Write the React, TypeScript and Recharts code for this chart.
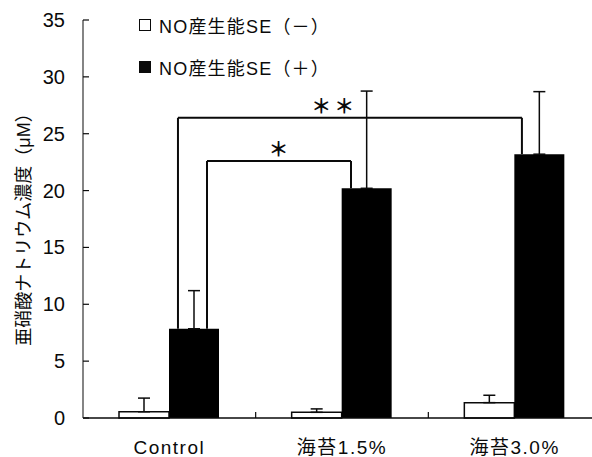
import React from "react";
import {
  BarChart,
  Bar,
  XAxis,
  YAxis,
  ErrorBar,
  Legend,
  ReferenceLine,
  ReferenceDot,
} from "recharts";

const categories = ["Control", "海苔1.5%", "海苔3.0%"];
const minusValues = [0.55, 0.5, 1.35];
const minusErrors = [1.2, 0.3, 0.65];
const plusValues = [7.85, 20.2, 23.2];
const plusErrors = [3.35, 8.55, 5.5];
const yTicks = [0, 5, 10, 15, 20, 25, 30, 35];
const seriesKeys = ["minus", "plus"];
const seriesNames = ["NO産生能SE（－）", "NO産生能SE（＋）"];
const yTitle = "亜硝酸ナトリウム濃度（μM）";

// brackets: x in category units (0..3 across the plot), level in µM
const brackets = [
  { from: 0, to: 1, x1: 0.718, x2: 1.552, level: 22.6 },
  { from: 0, to: 2, x1: 0.55, x2: 2.542, level: 26.4 },
];
const stars = [
  { x: 1.141, y: 23.7, text: "＊" },
  { x: 1.455, y: 27.5, text: "＊＊" },
];

const FONT = "'Liberation Sans', Arial, 'Noto Sans CJK JP', sans-serif";
const INK = "#0a0a0a";
const CHART_W = 601;
const CHART_H = 457;
const Y_AXIS_W = 83;
const BAND = (CHART_W - Y_AXIS_W) / categories.length;

const rows = categories.map((name, i) => ({
  name,
  pos: i + 0.5,
  minus: minusValues[i],
  minusErr: [0, minusErrors[i]],
  plus: plusValues[i],
  plusErr: [0, plusErrors[i]],
}));

const CategoryTick = (props: any) => {
  const { x, y, payload, index } = props;
  return (
    <g>
      <text
        x={x}
        y={y + 29}
        textAnchor="middle"
        dominantBaseline="central"
        fontSize={19}
        letterSpacing={1.5}
        fontFamily={FONT}
        fill={INK}
      >
        {payload.value}
      </text>
      {index < categories.length - 1 && (
        <line x1={x + BAND / 2} x2={x + BAND / 2} y1={y} y2={y - 6} stroke={INK} strokeWidth={1.2} />
      )}
    </g>
  );
};

const ValueTick = (props: any) => {
  const { x, y, payload } = props;
  return (
    <g>
      <line x1={x} x2={x + 6} y1={y} y2={y} stroke={INK} strokeWidth={1.2} />
      <text
        x={x - 18}
        y={y}
        textAnchor="end"
        dominantBaseline="central"
        fontSize={20}
        fontFamily={FONT}
        fill={INK}
      >
        {payload.value}
      </text>
    </g>
  );
};

const YTitle = (props: any) => {
  const vb = props.viewBox ?? { x: 0, y: 20, width: Y_AXIS_W, height: 398 };
  const cx = vb.x + 24;
  const cy = vb.y + vb.height / 2 + 6;
  return (
    <text
      x={cx}
      y={cy}
      transform={`rotate(-90, ${cx}, ${cy})`}
      textAnchor="middle"
      dominantBaseline="central"
      fontSize={18}
      fontFamily={FONT}
      fill={INK}
    >
      {yTitle}
    </text>
  );
};

const Star = (props: any) => (
  <text
    x={props.cx}
    y={props.cy}
    textAnchor="middle"
    dominantBaseline="central"
    fontSize={20}
    fontWeight="bold"
    letterSpacing={3}
    fontFamily="'Noto Sans CJK JP', sans-serif"
    fill={INK}
  >
    {props.text}
  </text>
);

const renderLegend = (props: any) => {
  const items = [...(props.payload || [])].sort(
    (a: any, b: any) => seriesKeys.indexOf(a.dataKey) - seriesKeys.indexOf(b.dataKey)
  );
  return (
    <div style={{ fontFamily: FONT, color: INK }}>
      {items.map((entry: any, i: number) => (
        <div
          key={entry.dataKey}
          style={{ display: "flex", alignItems: "center", height: 20, marginBottom: i === 0 ? 21.5 : 0 }}
        >
          <span
            style={{
              display: "inline-block",
              width: 10,
              height: 10,
              border: `1.5px solid ${INK}`,
              background: entry.dataKey === "minus" ? "#fff" : INK,
              marginRight: 8,
            }}
          />
          <span style={{ fontSize: 18, letterSpacing: 1.2 }}>{entry.value}</span>
        </div>
      ))}
    </div>
  );
};

export default function App() {
  return (
    <div
      style={{
        position: "fixed",
        left: 0,
        top: 0,
        width: 592,
        height: 457,
        overflow: "hidden",
        background: "#fff",
        fontFamily: FONT,
      }}
    >
      <BarChart
        width={CHART_W}
        height={CHART_H}
        data={rows}
        margin={{ top: 20, right: 0, bottom: 0, left: 0 }}
        barSize={50}
        barGap={0}
      >
        <XAxis
          dataKey="name"
          height={39}
          interval={0}
          tickSize={0}
          tickMargin={0}
          tickLine={false}
          axisLine={{ stroke: INK, strokeWidth: 1.5 }}
          tick={<CategoryTick />}
        />
        <XAxis
          xAxisId="n"
          dataKey="pos"
          type="number"
          scale="linear"
          domain={[0, 3]}
          allowDataOverflow={true}
          hide
        />
        <YAxis
          width={Y_AXIS_W}
          domain={[0, 35]}
          ticks={yTicks}
          interval={0}
          tickSize={0}
          tickMargin={0}
          tickLine={false}
          axisLine={{ stroke: "#333", strokeWidth: 1.2 }}
          tick={<ValueTick />}
          label={<YTitle />}
        />
        <Legend
          layout="horizontal"
          verticalAlign="middle"
          align="center"
          wrapperStyle={{ left: 139, top: 15, width: "auto" }}
          content={renderLegend}
        />
        <Bar
          dataKey="minus"
          name={seriesNames[0]}
          fill="#fff"
          stroke={INK}
          strokeWidth={1.5}
          isAnimationActive={false}
        >
          <ErrorBar dataKey="minusErr" direction="y" width={6} stroke={INK} strokeWidth={1.5} />
        </Bar>
        <Bar dataKey="plus" name={seriesNames[1]} fill="#000" isAnimationActive={false}>
          <ErrorBar dataKey="plusErr" direction="y" width={6} stroke={INK} strokeWidth={1.5} />
        </Bar>
        {brackets.map((b, i) => [
          <ReferenceLine
            key={`l${i}`}
            xAxisId="n"
            ifOverflow="visible"
            segment={[
              { x: b.x1, y: plusValues[b.from] },
              { x: b.x1, y: b.level },
            ]}
            stroke={INK}
            strokeWidth={2}
          />,
          <ReferenceLine
            key={`t${i}`}
            xAxisId="n"
            ifOverflow="visible"
            segment={[
              { x: b.x1, y: b.level },
              { x: b.x2, y: b.level },
            ]}
            stroke={INK}
            strokeWidth={2}
          />,
          <ReferenceLine
            key={`r${i}`}
            xAxisId="n"
            ifOverflow="visible"
            segment={[
              { x: b.x2, y: b.level },
              { x: b.x2, y: plusValues[b.to] },
            ]}
            stroke={INK}
            strokeWidth={2}
          />,
        ])}
        {stars.map((s, i) => (
          <ReferenceDot
            key={`s${i}`}
            xAxisId="n"
            ifOverflow="visible"
            x={s.x}
            y={s.y}
            r={0}
            shape={(p: any) => <Star cx={p.cx} cy={p.cy} text={s.text} />}
          />
        ))}
      </BarChart>
    </div>
  );
}
